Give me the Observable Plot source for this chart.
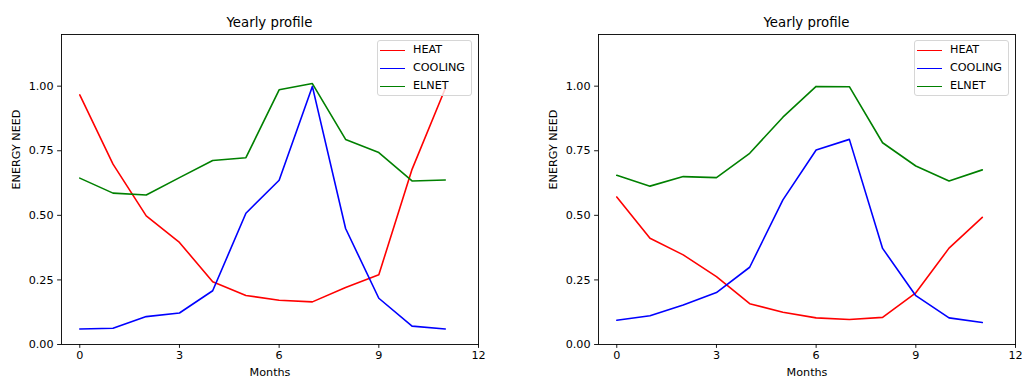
<!DOCTYPE html>
<html><head><meta charset="utf-8">
<script src="https://cdn.jsdelivr.net/npm/d3@7"></script>
<script src="https://cdn.jsdelivr.net/npm/@observablehq/plot@0.6"></script>
<style>
body{margin:0;background:#fff;font-family:"DejaVu Sans",sans-serif;}
#wrap{display:flex;width:1022px;height:380px;}
.panel{position:relative;width:511px;height:380px;}
.title{height:30px;box-sizing:border-box;padding-top:16px;font-size:13.3px;line-height:14px;text-align:center;color:#000;white-space:nowrap;}
.legend{position:absolute;top:40px;width:95px;height:56px;box-sizing:border-box;border:1px solid #d6d6d6;border-radius:3px;background:rgba(255,255,255,0.8);font-size:11.2px;color:#000;}
.legend .row{position:absolute;left:0;height:18px;width:100%;}
.legend .sw{position:absolute;left:2px;top:8px;width:25px;height:0;border-top:1.7px solid;}
.legend .lab{position:absolute;left:35px;top:1px;line-height:14px;}
svg{display:block;}
</style>
</head><body>
<div id="wrap"></div>
<script>
const months = [0,1,2,3,4,5,6,7,8,9,10,11];
const seriesNames = ["HEAT","COOLING","ELNET"];
const seriesColors = ["#ff0000","#0000ff","#008000"];
const xTicks = [0,3,6,9,12];
const yTicks = [0,0.25,0.5,0.75,1.0];
const titleText = "Yearly profile";
const xLabel = "Months";
const yLabel = "ENERGY NEED";

// Left panel
const heatA    = [0.966,0.698,0.498,0.395,0.243,0.190,0.171,0.165,0.221,0.270,0.678,0.991];
const coolingA = [0.060,0.063,0.108,0.122,0.208,0.508,0.636,0.999,0.449,0.179,0.071,0.060];
const elnetA   = [0.644,0.586,0.579,0.646,0.712,0.723,0.986,1.010,0.794,0.743,0.633,0.637];
// Right panel
const heatB    = [0.571,0.411,0.347,0.263,0.158,0.125,0.103,0.097,0.105,0.200,0.373,0.492];
const coolingB = [0.094,0.111,0.153,0.201,0.299,0.560,0.753,0.794,0.372,0.189,0.103,0.085];
const elnetB   = [0.655,0.613,0.650,0.646,0.740,0.880,0.999,0.998,0.781,0.691,0.633,0.676];

function makeRows(seriesArrays){
  const rows = [];
  seriesArrays.forEach((arr,i)=>arr.forEach((v,j)=>rows.push({series:seriesNames[i],month:months[j],value:v})));
  return rows;
}

function panel(seriesArrays, mLeft, mRight){
  const W = 511;
  const div = document.createElement("div");
  div.className = "panel";
  const t = document.createElement("div");
  t.className = "title";
  t.style.paddingLeft = mLeft + "px";
  t.style.width = (W - mRight) + "px";
  t.style.boxSizing = "border-box";
  t.textContent = titleText;
  div.appendChild(t);
  const rows = makeRows(seriesArrays);
  const chart = Plot.plot({
    width: W, height: 350,
    marginLeft: mLeft, marginRight: mRight, marginTop: 4, marginBottom: 36,
    style: {fontFamily: "DejaVu Sans", fontSize: "11.2px", background: "white", color: "#000", overflow: "visible"},
    x: {domain: [-0.55, 12]},
    y: {domain: [0, 1.2]},
    color: {domain: seriesNames, range: seriesColors},
    marks: [
      Plot.axisX({ticks: xTicks, tickFormat: d => String(d), tickSize: 3.9, tickPadding: 3, strokeWidth: 0.9, fontSize: 11.2, label: null}),
      Plot.axisY({ticks: yTicks, tickFormat: d3.format(".2f"), tickSize: 3.9, tickPadding: 4, strokeWidth: 0.9, fontSize: 11.2, label: null}),
      Plot.line(rows, {x: "month", y: "value", z: "series", stroke: "series", strokeWidth: 1.6, strokeLinejoin: "round"}),
      Plot.frame({stroke: "#000", strokeWidth: 0.9}),
      Plot.text([xLabel], {text: d => d, frameAnchor: "bottom", dy: 31, fontSize: 11.2, fill: "#000"}),
      Plot.text([yLabel], {text: d => d, frameAnchor: "left", dx: -45, rotate: -90, fontSize: 11.2, fill: "#000"})
    ]
  });
  div.appendChild(chart);
  const lg = document.createElement("div");
  lg.className = "legend";
  lg.style.left = (W - mRight - 6 - 95) + "px";
  seriesNames.forEach((n,i)=>{
    const r = document.createElement("div");
    r.className = "row";
    r.style.top = (1 + i*18) + "px";
    const sw = document.createElement("div");
    sw.className = "sw";
    sw.style.borderTopColor = seriesColors[i];
    const lab = document.createElement("div");
    lab.className = "lab";
    lab.textContent = n;
    r.appendChild(sw); r.appendChild(lab);
    lg.appendChild(r);
  });
  div.appendChild(lg);
  return div;
}

const wrap = document.getElementById("wrap");
wrap.appendChild(panel([heatA, coolingA, elnetA], 61, 33));
wrap.appendChild(panel([heatB, coolingB, elnetB], 87, 7));
</script>
</body></html>
